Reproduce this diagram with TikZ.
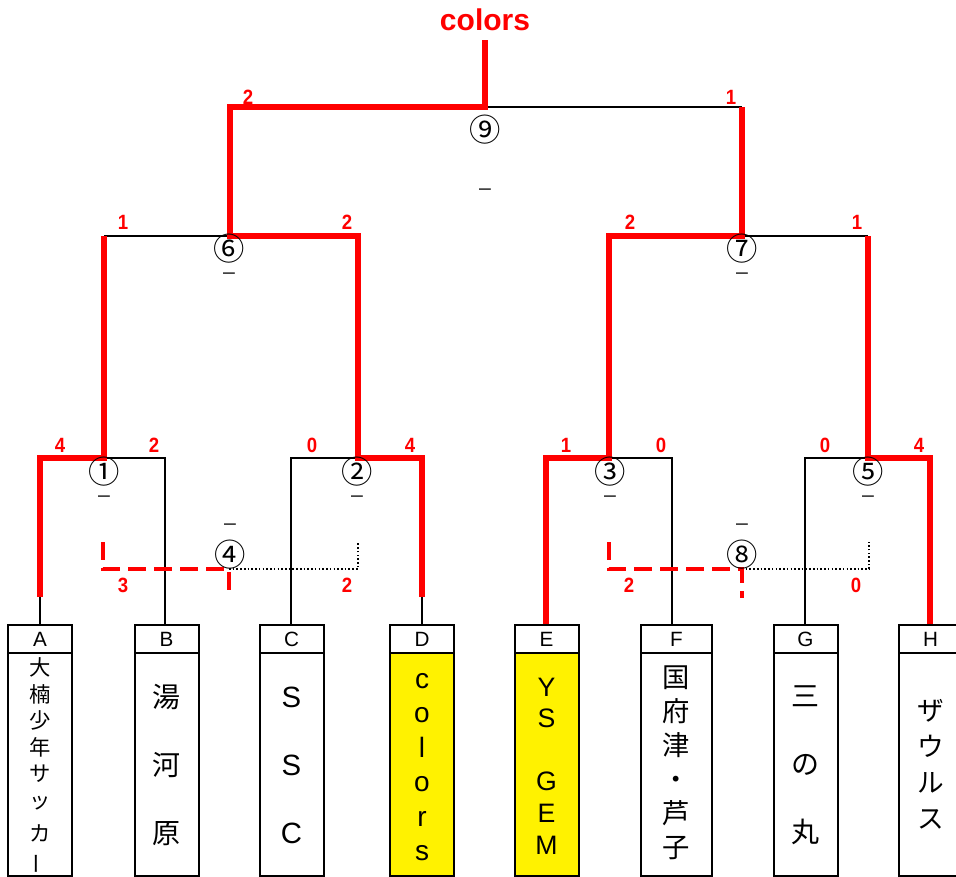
\documentclass[tikz,border=0pt]{standalone}
\usepackage{fontspec}
\setmainfont{Liberation Sans}
\newfontfamily\cjk{Noto Sans CJK JP}
\begin{document}
\begin{tikzpicture}[x=0.75pt,y=-0.75pt,
  win/.style={draw=red,line width=4.4pt,line join=miter},
  lose/.style={draw=black,line width=1.8pt},
  thirdwin/.style={draw=red,line width=3.7pt,dash pattern=on 13.5pt off 6pt},
  thirdlose/.style={draw=black,line width=1.2pt,dash pattern=on 1.2pt off 1.6pt},
  score/.style={text=red,font=\bfseries\fontsize{15.5}{15.5}\selectfont,inner sep=0pt,xscale=0.9},
  mnum/.style={font=\cjk\fontsize{23.5}{23.5}\selectfont,inner sep=0pt},
  mdash/.style={font=\fontsize{14.5}{14.5}\selectfont,inner sep=0pt,xscale=1.1},
  head/.style={draw,line width=1.5pt,minimum height=21pt,inner sep=0pt,font=\fontsize{15.5}{15.5}\selectfont},
  body/.style={draw,line width=1.5pt,minimum height=167.25pt,inner sep=0pt,align=center},
  w64/.style={minimum width=48pt},
  w71/.style={minimum width=53.25pt}
]
\useasboundingbox (0,0) rectangle (956,877);
\clip (0,0) rectangle (956,877);

% ---------- team boxes ----------
\node[head,w64] (hA) at (40,639) {A};
\node[head,w64] (hB) at (166.5,639) {B};
\node[head,w64] (hC) at (291.5,639) {C};
\node[head,w64] (hD) at (422,639) {D};
\node[head,w64] (hE) at (546.5,639) {E};
\node[head,w71] (hF) at (676.5,639) {F};
\node[head,w64] (hG) at (805.5,639) {G};
\node[head,w64] (hH) at (930.5,639) {H};

\node[body,w64] (bA) at (40,764.5) {};
\node[body,w64] (bB) at (166.5,764.5) {};
\node[body,w64] (bC) at (291.5,764.5) {};
\node[body,w64,fill=yellow] (bD) at (422,764.5) {};
\node[body,w64,fill=yellow] (bE) at (546.5,764.5) {};
\node[body,w71] (bF) at (676.5,764.5) {};
\node[body,w64] (bG) at (805.5,764.5) {};
\node[body,w64] (bH) at (930.5,764.5) {};

\node[align=center,inner sep=0pt,font=\cjk\fontsize{16}{19.9}\selectfont] (tA) at (40,766) {大\\楠\\少\\年\\サ\\ッ\\[4.9pt]カ\\\rotatebox[origin=c]{90}{ー}};
\node[align=center,inner sep=0pt,font=\cjk\fontsize{21}{51}\selectfont] (tB) at (166.5,765) {湯\\河\\原};
\node[align=center,inner sep=0pt,font=\fontsize{22}{51}\selectfont] (tC) at (291.5,765) {S\\S\\C};
\node[align=center,inner sep=0pt,font=\fontsize{21}{25.8}\selectfont] (tD) at (422,767) {c\\o\\l\\o\\r\\s};
\node[align=center,inner sep=0pt,font=\fontsize{20}{23.7}\selectfont] (tE) at (546.5,766) {Y\\S\\~\\G\\E\\M};
\node[align=center,inner sep=0pt,font=\cjk\fontsize{20.5}{25.5}\selectfont] (tF) at (676.5,763) {国\\府\\津\\・\\芦\\子};
\node[align=center,inner sep=0pt,font=\cjk\fontsize{21}{51}\selectfont] (tG) at (805.5,765) {三\\の\\丸};
\node[align=center,inner sep=0pt,font=\cjk\fontsize{20}{27}\selectfont] (tH) at (930.5,764) {ザ\\ウ\\ル\\ス};

% ---------- junction coordinates ----------
% round 1 (y=458)
\coordinate (pA) at (40,458);  \coordinate (j1) at (104,458); \coordinate (pB) at (165,458);
\coordinate (pC) at (291,458); \coordinate (j2) at (358,458); \coordinate (pD) at (422,458);
\coordinate (pE) at (546,458); \coordinate (j3) at (609,458); \coordinate (pF) at (672,458);
\coordinate (pG) at (805,458); \coordinate (j5) at (868,458); \coordinate (pH) at (930,458);
\coordinate (eA) at (40,597);  \coordinate (eD) at (422,597);
% round 2 (y=236)
\coordinate (q1) at (104,236); \coordinate (j6) at (230,236); \coordinate (q2) at (358,236);
\coordinate (q3) at (609,236); \coordinate (j7) at (742,236); \coordinate (q5) at (868,236);
% final (y=107)
\coordinate (q6) at (230,107); \coordinate (j9) at (485,107); \coordinate (q7) at (742,107);
\coordinate (top) at (485,40);
% third place
\coordinate (k4a) at (103,542); \coordinate (k4b) at (103,569); \coordinate (j4) at (229,569); \coordinate (k4c) at (229,598);
\coordinate (k4d) at (358,569); \coordinate (k4e) at (358,542);
\coordinate (k8a) at (609,542); \coordinate (k8b) at (609,569); \coordinate (j8) at (742,569); \coordinate (k8c) at (742,598);
\coordinate (k8d) at (869,569); \coordinate (k8e) at (869,542);

% ---------- losing (black) lines ----------
\draw[lose] (eA) -- (eA |- hA.north);
\draw[lose] (j1) -- (pB) -- (pB |- hB.north);
\draw[lose] (pC |- hC.north) -- (pC) -- (j2);
\draw[lose] (eD) -- (eD |- hD.north);
\draw[lose] (j3) -- (pF) -- (pF |- hF.north);
\draw[lose] (pG |- hG.north) -- (pG) -- (j5);
\draw[lose] (q1) -- (j6);
\draw[lose] (j7) -- (q5);
\draw[lose] (j9) -- (q7);

% ---------- winning (red) lines ----------
\draw[win] (eA) -- (pA) -- (j1) -- (q1);
\draw[win] (eD) -- (pD) -- (j2) -- (q2) -- (j6) -- (q6) -- (j9) -- (top);
\draw[win] (pE |- hE.north) -- (pE) -- (j3) -- (q3) -- (j7) -- (q7);
\draw[win] (pH |- hH.north) -- (pH) -- (j5) -- (q5);

% ---------- third place ----------
\draw[thirdlose] (j4) -- (k4d) -- (k4e);
\draw[thirdlose] (j8) -- (k8d) -- (k8e);
\draw[thirdwin] (k4a) -- (k4b) -- (j4) -- (k4c);
\draw[thirdwin] (k8a) -- (k8b) -- (j8) -- (k8c);

% ---------- match numbers ----------
\node[mnum] (m1) at (104,472) {①};
\node[mnum] (m2) at (357,472) {②};
\node[mnum] (m3) at (610,472) {③};
\node[mnum] (m5) at (868,472) {⑤};
\node[mnum] (m4) at (230,555) {④};
\node[mnum] (m8) at (742,555) {⑧};
\node[mnum] (m6) at (229,249) {⑥};
\node[mnum] (m7) at (742,249) {⑦};
\node[mnum] (m9) at (485,130) {⑨};

\node[mdash] (d1) at (104,499) {–};
\node[mdash] (d2) at (357,499) {–};
\node[mdash] (d3) at (610,499) {–};
\node[mdash] (d5) at (868,499) {–};
\node[mdash] (d4) at (230,527) {–};
\node[mdash] (d8) at (742,527) {–};
\node[mdash] (d6) at (229,276) {–};
\node[mdash] (d7) at (742,276) {–};
\node[mdash] (d9) at (485,192) {–};

% ---------- scores ----------
\node[score] (sA) at (60,445) {4};
\node[score] (sB) at (154,445) {2};
\node[score] (sC) at (312,445) {0};
\node[score] (sD) at (410,445) {4};
\node[score] (sE) at (566,445) {1};
\node[score] (sF) at (661,445) {0};
\node[score] (sG) at (825,445) {0};
\node[score] (sH) at (919,445) {4};
\node[score] (s61) at (123,222) {1};
\node[score] (s62) at (347,222) {2};
\node[score] (s71) at (630,222) {2};
\node[score] (s72) at (857,222) {1};
\node[score] (s91) at (248,97) {2};
\node[score] (s92) at (731,97) {1};
\node[score] (s41) at (123,585) {3};
\node[score] (s42) at (347,585) {2};
\node[score] (s81) at (629,585) {2};
\node[score] (s82) at (856,585) {0};

% ---------- champion ----------
\node[text=red,font=\bfseries\fontsize{22.5}{22.5}\selectfont,inner sep=0pt] (champ) at (485,20) {colors};
\end{tikzpicture}
\end{document}
